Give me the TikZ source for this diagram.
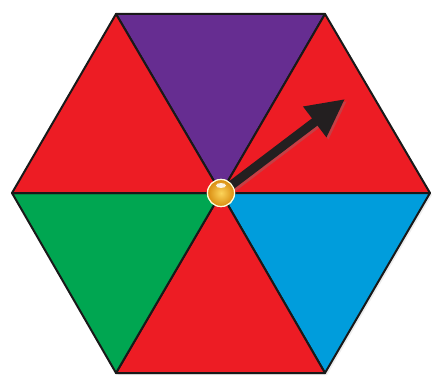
\documentclass[tikz,border=0pt]{standalone}
\usetikzlibrary{arrows.meta,calc}
\definecolor{sred}{HTML}{ED1C24}
\definecolor{spurple}{HTML}{662D91}
\definecolor{sgreen}{HTML}{00A651}
\definecolor{sblue}{HTML}{009DDC}
\definecolor{sarrow}{HTML}{231F20}
\definecolor{sgoldin}{HTML}{FCD45A}
\definecolor{sgoldout}{HTML}{D98C10}
\tikzset{
  sector/.style={draw=black!90, line width=2pt, line join=round},
  pointer/.style={draw=sarrow, line width=9pt, -{Triangle[width=36pt,length=38pt]}},
  hub/.style={circle, minimum size=27pt, inner sep=0pt, inner color=sgoldin, outer color=sgoldout, draw=white!85!yellow, line width=1.2pt}
}
\begin{document}
\begin{tikzpicture}[x=1pt,y=-1pt]
\useasboundingbox (0,0) rectangle (433,377);
\coordinate (O) at (221,193);
\coordinate (TL) at (116,14);
\coordinate (TR) at (325,14);
\coordinate (R) at (430,193);
\coordinate (BR) at (325,373);
\coordinate (BL) at (116,373);
\coordinate (L) at (12,193);
\coordinate (tip) at (345,99);
% soft shadow
\fill[black!7] ($(TL)+(2,2)$) -- ($(TR)+(2,2)$) -- ($(R)+(2,2)$) -- ($(BR)+(2,2)$) -- ($(BL)+(2,2)$) -- ($(L)+(2,2)$) -- cycle;
% sectors
\filldraw[sector, fill=spurple] (O) -- (TL) -- (TR) -- cycle;
\filldraw[sector, fill=sred] (O) -- (TR) -- (R) -- cycle;
\filldraw[sector, fill=sblue] (O) -- (R) -- (BR) -- cycle;
\filldraw[sector, fill=sred] (O) -- (BR) -- (BL) -- cycle;
\filldraw[sector, fill=sgreen] (O) -- (BL) -- (L) -- cycle;
\filldraw[sector, fill=sred] (O) -- (L) -- (TL) -- cycle;
% pointer
\node[hub] (hub) at (O) {};
\draw[pointer, draw=black!50, opacity=0.35] ($(hub.center)+(2,2)$) -- ($(tip)+(2,2)$);
\draw[pointer] (hub.center) -- (tip);
\node[hub] (hubtop) at (O) {};
\fill[white, opacity=0.85] ($(hubtop.center)+(0,-7.5)$) ellipse [x radius=5pt, y radius=2.5pt];
\end{tikzpicture}
\end{document}
